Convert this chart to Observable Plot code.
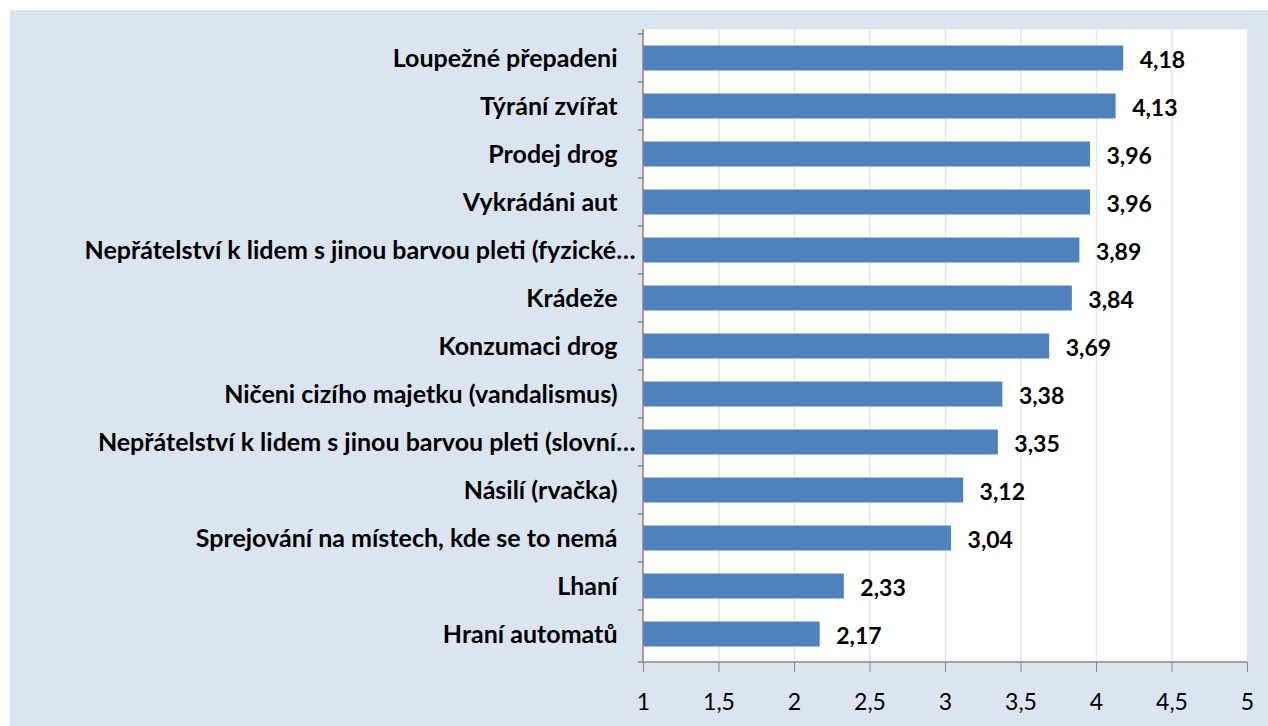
<!DOCTYPE html>
<html><head><meta charset="utf-8">
<script src="https://cdn.jsdelivr.net/npm/d3@7"></script>
<script src="https://cdn.jsdelivr.net/npm/@observablehq/plot@0.6"></script>
<style>
html,body{margin:0;padding:0;background:#fff;}
#panel{position:absolute;left:10px;top:10px;width:1258px;height:716px;background:#dbe5f1;}
</style></head><body><div id="panel"></div>
<script>
const categories = [
  "Loupežné přepadeni",
  "Týrání zvířat",
  "Prodej drog",
  "Vykrádáni aut",
  "Nepřátelství k lidem s jinou barvou pleti (fyzické…",
  "Krádeže",
  "Konzumaci drog",
  "Ničeni cizího majetku (vandalismus)",
  "Nepřátelství k lidem s jinou barvou pleti (slovní…",
  "Násilí (rvačka)",
  "Sprejování na místech, kde se to nemá",
  "Lhaní",
  "Hraní automatů"
];
const values = [4.18, 4.13, 3.96, 3.96, 3.89, 3.84, 3.69, 3.38, 3.35, 3.12, 3.04, 2.33, 2.17];
const xTicks = [1, 1.5, 2, 2.5, 3, 3.5, 4, 4.5, 5];

const data = categories.map((c, i) => ({category: c, value: values[i]}));
const fmt = v => v.toFixed(2).replace(".", ",");
const tickFmt = v => String(v).replace(".", ",");
const axisGray = "#868686";

const frameLines = (index, scales, values, dims) => {
  const g = d3.create("svg:g");
  const x0 = scales.x(1), x5 = scales.x(5);
  const bottom = dims.height - dims.marginBottom;
  const ys = categories.map(c => scales.y(c)).concat([bottom]);
  g.append("line").attr("x1", x0).attr("x2", x5).attr("y1", bottom).attr("y2", bottom)
    .attr("stroke", axisGray).attr("stroke-width", 1.5);
  g.append("line").attr("x1", x0).attr("x2", x0).attr("y1", dims.marginTop).attr("y2", bottom)
    .attr("stroke", axisGray).attr("stroke-width", 1.5);
  ys.forEach(y => g.append("line").attr("x1", x0 - 5).attr("x2", x0).attr("y1", y).attr("y2", y)
    .attr("stroke", axisGray).attr("stroke-width", 1.5));
  return g.node();
};

const chart = Plot.plot({
  width: 1258, height: 716,
  marginLeft: 633, marginRight: 21, marginTop: 19, marginBottom: 64,
  style: {background: "transparent", fontFamily: "Lato, sans-serif", color: "#000"},
  x: {domain: [1, 5]},
  y: {domain: categories, padding: 0},
  marks: [
    Plot.frame({fill: "white", stroke: "none"}),
    Plot.ruleX(xTicks.slice(1), {stroke: "#e6e6e6", strokeWidth: 1.5}),
    Plot.barX(data, {x1: 1, x2: "value", y: "category", fill: "#4f81bd", insetTop: 11.5, insetBottom: 11.5}),
    Plot.text(data, {x: "value", y: "category", text: d => fmt(d.value), textAnchor: "start", dx: 16, dy: 2,
      fontWeight: "bold", fontSize: 23, fill: "#000"}),
    frameLines,
    Plot.axisX(xTicks, {tickSize: 10, tickPadding: 21, tickFormat: tickFmt, fontSize: 23, stroke: axisGray, fill: "#000", label: null}),
    Plot.axisY(categories.filter(c => !c.endsWith("…")), {tickSize: 0, tickPadding: 26, fontSize: 25, fontWeight: "bold", fill: "#000", label: null}),
    Plot.axisY(categories.filter(c => c.endsWith("…")), {tickSize: 0, tickPadding: 8, fontSize: 25, fontWeight: "bold", fill: "#000", label: null})
  ]
});
document.getElementById("panel").appendChild(chart);
</script></body></html>
